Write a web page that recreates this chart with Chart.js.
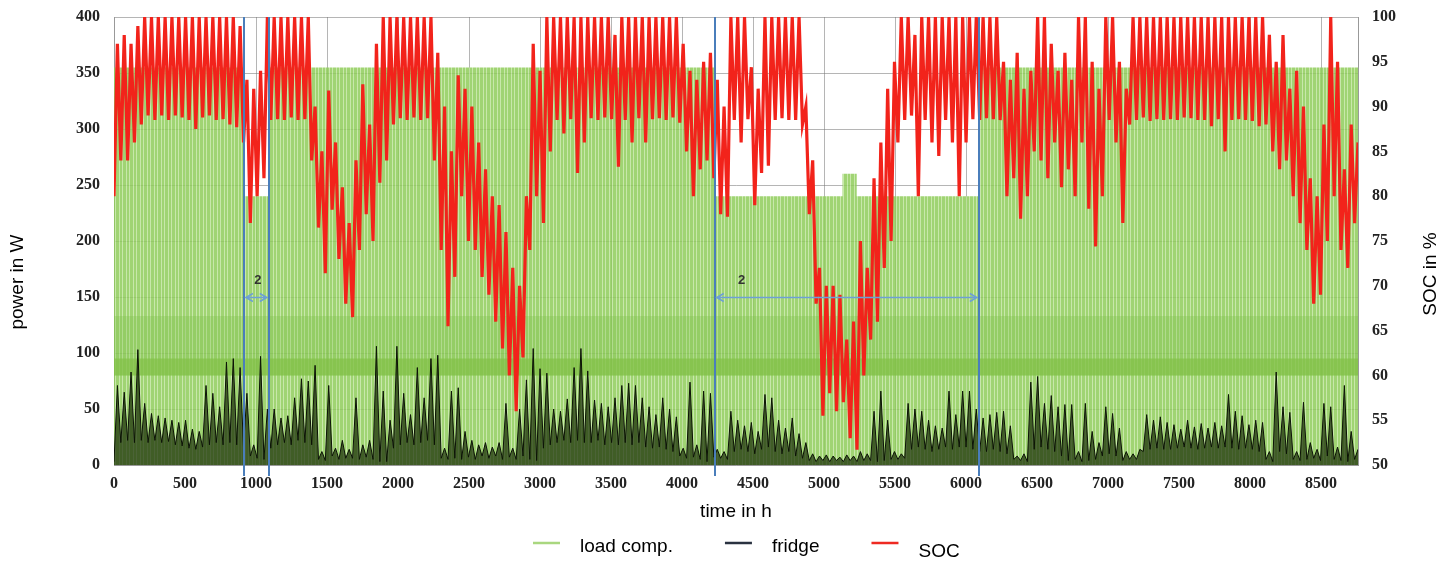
<!DOCTYPE html>
<html><head><meta charset="utf-8">
<script src="https://cdn.jsdelivr.net/npm/chart.js@4.4.1/dist/chart.umd.min.js"></script>
<style>html,body{margin:0;padding:0;background:#fff;}#wrap{width:1451px;height:561px;}</style>
</head><body><div id="wrap"><canvas id="c" width="1451" height="561"></canvas></div>
<script>
// ---------- data ----------
const STEP_H = 24; // hours between consecutive SOC / fridge readings
const socPct = [
  80, 97, 84, 98, 84, 97, 86, 99, 88, 100,
  89, 100, 88.5, 100, 89, 100, 88.5, 100, 89, 100,
  88.8, 100, 88.5, 100, 87.5, 100, 88.8, 100, 89, 100,
  88.5, 100, 88.6, 100, 88, 100, 87.7, 99, 86, 93,
  77, 92, 80, 94, 82, 100, 88.5, 100, 88.6, 100,
  88.5, 100, 88.8, 100, 88.5, 100, 88.6, 100, 84, 90,
  76.5, 85, 71.4, 91.8, 78.5, 86, 73, 81, 68, 77,
  66.5, 84, 74, 92.5, 78, 88, 75, 97, 81.5, 100,
  84, 100, 88, 100, 88.7, 100, 88.5, 100, 88.8, 100,
  88.5, 100, 88.7, 100, 84, 96, 74, 90, 65.5, 85,
  71, 93.5, 80, 92, 75, 90, 74, 86, 71, 83,
  69, 80, 66, 79, 63, 76, 60, 72, 56, 70,
  62, 80, 74, 97, 80, 94, 77, 100, 85, 100,
  88.5, 100, 87, 100, 88.6, 100, 82.6, 100, 86, 100,
  88.7, 100, 88.5, 100, 88.8, 100, 88.6, 98, 83.3, 100,
  88.5, 100, 86, 100, 88.7, 100, 86, 100, 88.6, 100,
  88.7, 100, 88.5, 100, 88.8, 100, 88.2, 97, 85, 94,
  80, 93, 83, 95, 84, 96, 82, 93, 78, 90,
  77.7, 100, 88.5, 100, 86, 100, 88.6, 94.4, 79, 92,
  82.6, 100, 83.4, 100, 88.5, 100, 88.7, 100, 88.5, 100,
  88.5, 100, 88, 90, 78, 84, 68, 72, 55.5, 70,
  58, 70, 56, 69, 57, 64, 53, 66, 51.7, 75,
  60, 72, 64, 82, 66, 86, 72, 92, 75, 95,
  86, 100, 88.5, 100, 89, 98, 80, 100, 88.5, 100,
  86, 100, 84.5, 100, 88.5, 100, 86, 100, 80, 100,
  86, 100, 88.6, 100, 88.5, 100, 88.7, 100, 88.6, 100,
  88.5, 95, 80, 93, 82, 96, 77.5, 92, 80, 94,
  85, 100, 84, 100, 82, 97, 86, 94, 81, 96,
  83, 93, 80, 100, 86, 100, 78.6, 95, 74.4, 92,
  80, 100, 88.5, 100, 86, 95, 77, 92, 88, 100,
  88.5, 100, 88.8, 100, 88.4, 100, 88.6, 100, 88.5, 100,
  88.6, 100, 88.5, 100, 88.8, 100, 88.7, 100, 88.5, 100,
  88.5, 100, 87.8, 100, 88.6, 100, 85, 100, 88.5, 100,
  88.6, 100, 88.5, 100, 88.4, 100, 87.8, 100, 88, 98,
  85, 95, 83, 98, 84, 92, 80, 94, 77, 90,
  74, 82, 68, 80, 69, 88, 75, 100, 80, 95,
  74, 83, 72, 88, 77, 86
];
const fridgeW = [
  3, 71, 20, 65, 22, 83, 20, 103, 22, 55,
  20, 46, 22, 44, 20, 42, 21, 40, 18, 38,
  17, 40, 15, 32, 14, 30, 16, 71, 18, 64,
  20, 52, 18, 92, 20, 95, 18, 87, 16, 64,
  8, 18, 6, 97, 5, 50, 15, 50, 18, 42,
  20, 44, 18, 60, 22, 77, 20, 75, 18, 89,
  5, 12, 4, 71, 8, 15, 5, 22, 6, 14,
  6, 60, 5, 18, 7, 22, 5, 106, 3, 66,
  3, 40, 15, 106, 18, 64, 20, 45, 18, 87,
  20, 60, 22, 95, 18, 98, 6, 15, 5, 66,
  6, 69, 5, 30, 7, 22, 5, 18, 8, 20,
  6, 16, 8, 20, 5, 55, 7, 15, 5, 50,
  8, 76, 5, 104, 4, 86, 15, 82, 18, 50,
  20, 48, 22, 59, 20, 87, 22, 104, 20, 84,
  20, 58, 22, 55, 18, 52, 20, 60, 18, 71,
  20, 73, 18, 71, 20, 60, 16, 52, 15, 45,
  16, 60, 14, 50, 12, 43, 8, 15, 6, 74,
  7, 18, 5, 66, 3, 64, 7, 14, 6, 12,
  5, 48, 12, 40, 14, 35, 12, 38, 10, 30,
  14, 63, 16, 60, 12, 40, 10, 33, 12, 42,
  8, 28, 6, 20, 4, 10, 3, 8, 4, 9,
  3, 8, 4, 7, 3, 9, 4, 8, 3, 12,
  4, 10, 4, 48, 3, 66, 4, 40, 5, 12,
  5, 10, 6, 55, 14, 50, 16, 48, 14, 40,
  12, 35, 14, 33, 16, 66, 14, 45, 16, 66,
  16, 66, 14, 50, 12, 42, 12, 45, 14, 47,
  12, 48, 10, 35, 5, 8, 4, 10, 3, 74,
  14, 79, 16, 55, 14, 62, 12, 52, 8, 54,
  4, 54, 5, 12, 3, 55, 4, 30, 5, 20,
  8, 52, 10, 46, 8, 33, 4, 12, 5, 10,
  5, 14, 12, 45, 14, 40, 15, 43, 14, 38,
  14, 36, 15, 32, 16, 40, 15, 34, 14, 37,
  15, 33, 16, 38, 15, 35, 16, 63, 15, 48,
  14, 44, 15, 36, 14, 40, 12, 38, 5, 12,
  3, 83, 12, 52, 10, 47, 5, 12, 4, 56,
  5, 20, 6, 14, 4, 55, 8, 52, 5, 16,
  4, 71, 3, 30, 5, 14
];
// load compensation: constant levels, each valid from its start hour to the next
const loadHours = [0, 915, 1090, 4230, 5130, 5230, 6090, 8760];
const loadWatts = [355, 240, 355, 240, 260, 240, 355, 355];
// frequent load levels (darker bands of the load series)
const loadBandBase = 80;
const loadBandTops = [133, 95];
// period markers "2"
const markerHours = [915, 1090, 4230, 6090];
const arrowSpans = [[915, 1090], [4230, 6090]];
const arrowLevelW = 150;
const arrowLabels = ['2', '2'];
const arrowLabelHours = [1013, 4420];
const arrowLabelW = 165;
// axes
const xRange = [0, 8760];
const xTickValues = [0, 500, 1000, 1500, 2000, 2500, 3000, 3500, 4000, 4500, 5000, 5500, 6000, 6500, 7000, 7500, 8000, 8500];
const powerRange = [0, 400], powerStep = 50;
const socRange = [50, 100], socStep = 5;
const titles = { x: 'time in h', y: 'power in W', y2: 'SOC in %' };
const seriesNames = ['load comp.', 'fridge', 'SOC'];

// ---------- styles ----------
const canvas = document.getElementById('c');
const ctx0 = canvas.getContext('2d');
function stripePattern() {
  const c = document.createElement('canvas'); c.width = 7; c.height = 8;
  const g = c.getContext('2d');
  g.fillStyle = 'rgba(143,204,90,0.85)'; g.fillRect(0, 0, 7, 8);
  g.clearRect(0, 0, 1, 8); g.clearRect(3, 0, 1, 8);
  g.fillStyle = 'rgba(190,228,155,0.85)'; g.fillRect(0, 0, 1, 8); g.fillRect(3, 0, 1, 8);
  return ctx0.createPattern(c, 'repeat');
}
const SANS = '"Liberation Sans", Arial, sans-serif';
const SERIF = '"Liberation Serif", "Times New Roman", serif';
const TEXT_FONT = '19px ' + SANS;

const byStep = arr => arr.map((v, i) => ({ x: i * STEP_H, y: v }));

const datasets = [
  { label: seriesNames[0], data: loadHours.map((h, i) => ({ x: h, y: loadWatts[i] })),
    stepped: true, fill: 'origin', backgroundColor: stripePattern(), borderWidth: 0,
    pointRadius: 0, yAxisID: 'y', order: 5, legendColor: '#a9d77f' },
  { label: seriesNames[1], data: byStep(fridgeW), fill: 'origin',
    backgroundColor: 'rgba(28,48,10,0.72)', borderColor: '#0b1205', borderWidth: 1,
    pointRadius: 0, yAxisID: 'y', order: 1, legendColor: '#2a3240' },
  { label: seriesNames[2], data: byStep(socPct), fill: false,
    borderColor: '#f2231b', borderWidth: 3.2, pointRadius: 0, yAxisID: 'y2', order: 0, legendColor: '#ee2a22' },
  { label: 'band1', data: [{ x: xRange[0], y: loadBandTops[0] }, { x: xRange[1], y: loadBandTops[0] }],
    fill: { value: loadBandBase }, backgroundColor: 'rgba(120,190,70,0.3)', borderWidth: 0,
    pointRadius: 0, yAxisID: 'y', order: 4, hideLegend: true },
  { label: 'band2', data: [{ x: xRange[0], y: loadBandTops[1] }, { x: xRange[1], y: loadBandTops[1] }],
    fill: { value: loadBandBase }, backgroundColor: 'rgba(130,192,70,0.7)', borderWidth: 0,
    pointRadius: 0, yAxisID: 'y', order: 3, hideLegend: true }
];

const decorPlugin = {
  id: 'decor',
  afterDatasetsDraw(chart) {
    const { ctx, chartArea, scales: { x, y } } = chart;
    ctx.save();
    ctx.strokeStyle = '#4a7ebb'; ctx.lineWidth = 2;
    markerHours.forEach(h => {
      const px = Math.round(x.getPixelForValue(h));
      ctx.beginPath(); ctx.moveTo(px, chartArea.top); ctx.lineTo(px, chartArea.bottom + 11); ctx.stroke();
    });
    ctx.strokeStyle = '#6d9fd6'; ctx.lineWidth = 1.5;
    const py = Math.round(y.getPixelForValue(arrowLevelW)) + 0.5;
    arrowSpans.forEach(([a, b]) => {
      const x1 = x.getPixelForValue(a) + 2, x2 = x.getPixelForValue(b) - 2;
      ctx.beginPath(); ctx.moveTo(x1, py); ctx.lineTo(x2, py);
      ctx.moveTo(x1 + 7, py - 4); ctx.lineTo(x1, py); ctx.lineTo(x1 + 7, py + 4);
      ctx.moveTo(x2 - 7, py - 4); ctx.lineTo(x2, py); ctx.lineTo(x2 - 7, py + 4);
      ctx.stroke();
    });
    ctx.fillStyle = '#333'; ctx.font = 'bold 13px ' + SANS;
    ctx.textAlign = 'center'; ctx.textBaseline = 'middle';
    arrowLabelHours.forEach((h, i) => ctx.fillText(arrowLabels[i], x.getPixelForValue(h), y.getPixelForValue(arrowLabelW)));
    ctx.restore();
  },
  afterDraw(chart) {
    const { ctx } = chart;
    ctx.save();
    ctx.fillStyle = '#000'; ctx.font = TEXT_FONT;
    ctx.textAlign = 'center'; ctx.textBaseline = 'middle';
    ctx.save(); ctx.translate(18, 282); ctx.rotate(-Math.PI / 2); ctx.fillText(titles.y, 0, 0); ctx.restore();
    ctx.save(); ctx.translate(1431, 274); ctx.rotate(-Math.PI / 2); ctx.fillText(titles.y2, 0, 0); ctx.restore();
    // legend
    const items = chart.data.datasets.filter(d => !d.hideLegend);
    let lx = 533; const ly = 543;
    ctx.textAlign = 'left'; ctx.textBaseline = 'middle';
    items.forEach((d, i) => {
      ctx.strokeStyle = d.legendColor; ctx.lineWidth = 2.5;
      ctx.beginPath(); ctx.moveTo(lx, ly); ctx.lineTo(lx + 27, ly); ctx.stroke();
      lx += 27 + 20;
      ctx.fillStyle = '#000';
      ctx.fillText(d.label, lx, ly + 4 + (i === 2 ? 5 : 0));
      lx += ctx.measureText(d.label).width + 52;
    });
    ctx.restore();
  }
};

const gridColor = 'rgba(120,120,120,0.55)';
const tickFont = { family: SERIF, size: 16, weight: 'bold' };
new Chart(canvas, {
  type: 'line',
  data: { datasets },
  options: {
    responsive: false, animation: false, events: [],
    devicePixelRatio: 1,
    layout: { padding: { top: 17, bottom: 34, left: 0, right: 0 } },
    plugins: { legend: { display: false }, tooltip: { enabled: false } },
    elements: { line: { tension: 0 } },
    scales: {
      x: { type: 'linear', min: xRange[0], max: xRange[1],
        afterBuildTicks: s => { s.ticks = xTickValues.map(v => ({ value: v })); },
        ticks: { autoSkip: false, maxRotation: 0, callback: v => String(v), padding: 0, color: '#222', font: tickFont },
        grid: { color: gridColor, drawTicks: true, tickLength: 9, tickColor: 'rgba(0,0,0,0)' }, border: { color: '#999' },
        title: { display: true, text: titles.x, color: '#000', font: { family: SANS, size: 19 }, padding: { top: 0, bottom: 4 } },
        afterFit: s => { s.height = 62; } },
      y: { position: 'left', min: powerRange[0], max: powerRange[1],
        ticks: { stepSize: powerStep, padding: 0, color: '#222', font: tickFont, callback: v => String(v) },
        grid: { color: gridColor, drawTicks: true, tickLength: 14, tickColor: 'rgba(0,0,0,0)' }, border: { color: '#999' },
        afterFit: s => { s.width = 114; } },
      y2: { position: 'right', min: socRange[0], max: socRange[1],
        ticks: { stepSize: socStep, padding: 0, color: '#222', font: tickFont, callback: v => String(v) },
        grid: { display: false, drawTicks: true, tickLength: 14, tickColor: 'rgba(0,0,0,0)' }, border: { color: '#999' },
        afterFit: s => { s.width = 93; } }
    }
  },
  plugins: [decorPlugin]
});
</script>
</body></html>
